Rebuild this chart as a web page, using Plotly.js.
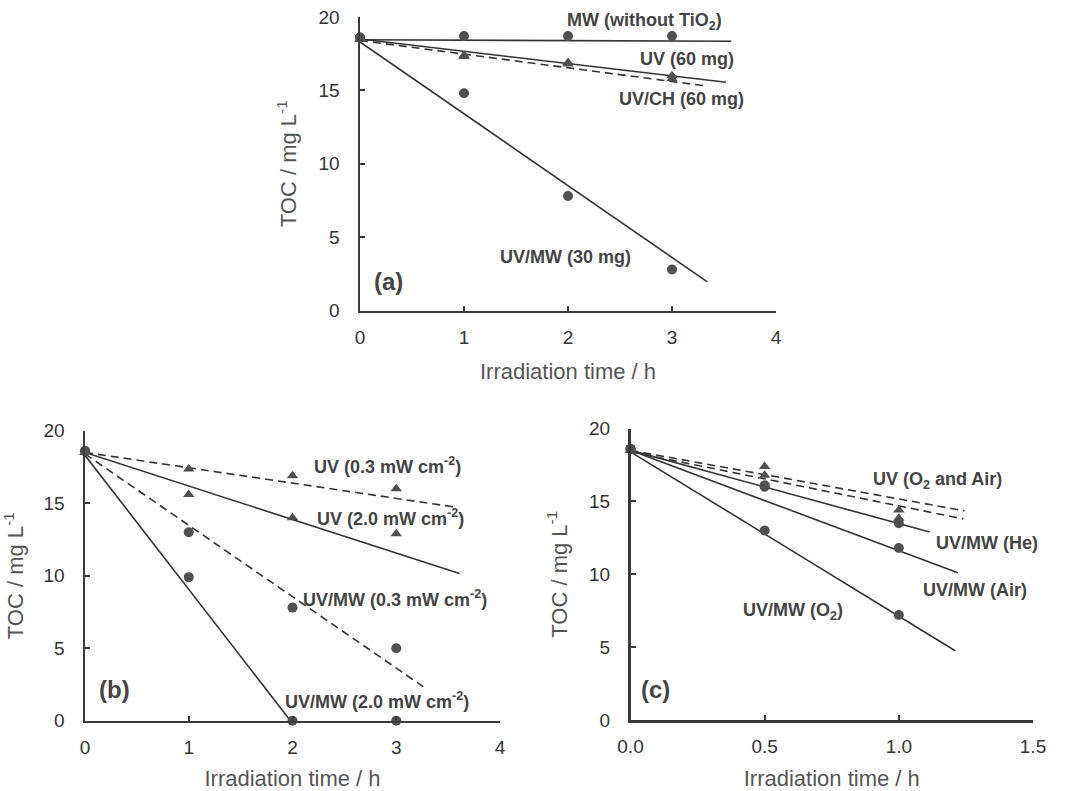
<!DOCTYPE html>
<html>
<head>
<meta charset="utf-8">
<script src="https://cdn.plot.ly/plotly-3.0.1.min.js"></script>
<style>html,body{margin:0;padding:0;background:#fff;}#chart{width:1066px;height:791px;}</style>
</head>
<body>
<div id="chart"></div>
<script>
// ---------- Panel (a) ----------
const aTime = [0, 1, 2, 3];
const aMW = [18.6, 18.7, 18.7, 18.7];
const aUV = [18.5, 17.4, 16.9, 16.0];
const aUVCH = [18.5, 17.3, 16.8, 15.8];
const aUVMW = [18.6, 14.8, 7.8, 2.8];
const aFitMW_x = [0, 3.57], aFitMW_y = [18.45, 18.35];
const aFitUV_x = [0, 3.52], aFitUV_y = [18.5, 15.55];
const aFitUVCH_x = [0, 3.33], aFitUVCH_y = [18.4, 15.3];
const aFitUVMW_x = [0, 3.34], aFitUVMW_y = [18.3, 1.95];

// ---------- Panel (b) ----------
const bTime = [0, 1, 2, 3];
const bUV03 = [18.5, 17.35, 16.9, 16.0];
const bUV20 = [18.5, 15.6, 14.0, 12.9];
const bMW03 = [18.6, 13.0, 7.8, 5.0];
const bMW20 = [18.6, 9.9, 0, 0];
const bFitUV03_x = [0, 3.55], bFitUV03_y = [18.5, 14.75];
const bFitUV20_x = [0, 3.61], bFitUV20_y = [18.5, 10.15];
const bFitMW03_x = [0, 3.26], bFitMW03_y = [18.4, 2.35];
const bFitMW20_x = [0, 1.98], bFitMW20_y = [18.3, 0];

// ---------- Panel (c) ----------
const cTime = [0, 0.5, 1.0];
const cUVO2 = [18.5, 17.4, 14.4];
const cUVAir = [18.5, 16.8, 13.85];
const cMWHe = [18.6, 16.0, 13.5];
const cMWAir = [18.6, 16.1, 11.8];
const cMWO2 = [18.6, 13.0, 7.2];
const cFitUVO2_x = [0, 1.245], cFitUVO2_y = [18.5, 14.35];
const cFitUVAir_x = [0, 1.24], cFitUVAir_y = [18.4, 13.8];
const cFitHe_x = [0, 1.115], cFitHe_y = [18.5, 12.9];
const cFitAir_x = [0, 1.22], cFitAir_y = [18.5, 10.1];
const cFitO2_x = [0, 1.21], cFitO2_y = [18.4, 4.75];

// tick labels
const aXTicks = [0, 1, 2, 3, 4];
const bXTicks = [0, 1, 2, 3, 4];
const cXTicks = [0, 0.5, 1.0, 1.5];
const cXTickText = ['0.0', '0.5', '1.0', '1.5'];
const yTicks = [0, 5, 10, 15, 20];

const INK = '#333';
const LINE = '#333';
const MARK = '#505050';

function fit(x, y, xa, ya, dash) {
  return {x: x, y: y, xaxis: xa, yaxis: ya, type: 'scatter', mode: 'lines',
    line: {color: LINE, width: 1.6, dash: dash ? '8px,5px' : 'solid'},
    showlegend: false, hoverinfo: 'skip', cliponaxis: false};
}
function pts(x, y, xa, ya, sym) {
  return {x: x, y: y, xaxis: xa, yaxis: ya, type: 'scatter', mode: 'markers',
    marker: {symbol: sym, size: sym === 'circle' ? 10 : 10, color: MARK, line: {width: 0}},
    showlegend: false, cliponaxis: false};
}

const traces = [
  fit(aFitMW_x, aFitMW_y, 'x', 'y', false),
  fit(aFitUV_x, aFitUV_y, 'x', 'y', false),
  fit(aFitUVCH_x, aFitUVCH_y, 'x', 'y', true),
  fit(aFitUVMW_x, aFitUVMW_y, 'x', 'y', false),
  pts(aTime, aUV, 'x', 'y', 'triangle-up'),
  pts(aTime, aUVCH, 'x', 'y', 'triangle-up'),
  pts(aTime, aMW, 'x', 'y', 'circle'),
  pts(aTime, aUVMW, 'x', 'y', 'circle'),

  fit(bFitUV03_x, bFitUV03_y, 'x2', 'y2', true),
  fit(bFitUV20_x, bFitUV20_y, 'x2', 'y2', false),
  fit(bFitMW03_x, bFitMW03_y, 'x2', 'y2', true),
  fit(bFitMW20_x, bFitMW20_y, 'x2', 'y2', false),
  pts(bTime, bUV03, 'x2', 'y2', 'triangle-up'),
  pts(bTime, bUV20, 'x2', 'y2', 'triangle-up'),
  pts(bTime, bMW03, 'x2', 'y2', 'circle'),
  pts(bTime, bMW20, 'x2', 'y2', 'circle'),

  fit(cFitUVO2_x, cFitUVO2_y, 'x3', 'y3', true),
  fit(cFitUVAir_x, cFitUVAir_y, 'x3', 'y3', true),
  fit(cFitHe_x, cFitHe_y, 'x3', 'y3', false),
  fit(cFitAir_x, cFitAir_y, 'x3', 'y3', false),
  fit(cFitO2_x, cFitO2_y, 'x3', 'y3', false),
  pts(cTime, cUVO2, 'x3', 'y3', 'triangle-up'),
  pts(cTime, cUVAir, 'x3', 'y3', 'triangle-up'),
  pts(cTime, cMWHe, 'x3', 'y3', 'circle'),
  pts(cTime, cMWAir, 'x3', 'y3', 'circle'),
  pts(cTime, cMWO2, 'x3', 'y3', 'circle')
];

const FONT = 'Liberation Sans, Arial, sans-serif';
function xax(domain, range, tv, tt, anchor) {
  return {domain: domain, range: range, anchor: anchor, tickvals: tv, ticktext: tt,
    showline: true, linewidth: 2.5, linecolor: '#3a3a3a', ticks: 'inside', ticklen: 5, tickwidth: 2, tickcolor: '#3a3a3a',
    showgrid: false, zeroline: false, ticklabelstandoff: 8,
    tickfont: {family: FONT, size: 19, color: INK},
    title: {text: 'Irradiation time / h', standoff: 17, font: {family: FONT, size: 22, color: '#555'}},
    fixedrange: true};
}
function yax(domain, anchor) {
  return {domain: domain, range: [0, 20], anchor: anchor, tickvals: yTicks,
    showline: true, linewidth: 2.5, linecolor: '#3a3a3a', ticks: 'inside', ticklen: 5, tickwidth: 2, tickcolor: '#3a3a3a',
    showgrid: false, zeroline: false, ticklabelstandoff: 14,
    tickfont: {family: FONT, size: 19, color: INK},
    title: {text: 'TOC / mg L<sup>-1</sup>', standoff: 16, font: {family: FONT, size: 22, color: '#555'}},
    fixedrange: true};
}

const W = 1066, H = 791;
const layout = {
  width: W, height: H, margin: {l: 0, r: 0, t: 0, b: 0},
  paper_bgcolor: '#fff', plot_bgcolor: 'rgba(0,0,0,0)', showlegend: false,
  xaxis: xax([360 / W, 776 / W], [0, 4], aXTicks, null, 'y'),
  yaxis: yax([1 - 310.5 / H, 1 - 17 / H], 'x'),
  xaxis2: xax([85 / W, 500 / W], [0, 4], bXTicks, null, 'y2'),
  yaxis2: yax([1 - 720.7 / H, 1 - 430.7 / H], 'x2'),
  xaxis3: xax([630.5 / W, 1033 / W], [0, 1.5], cXTicks, cXTickText, 'y3'),
  yaxis3: yax([1 - 720 / H, 1 - 428.5 / H], 'x3'),
  annotations: []
};

function lab(text, x, y, xr, yr, size) {
  return {text: text, x: x, y: y, xref: xr, yref: yr, showarrow: false,
    xanchor: 'center', yanchor: 'middle',
    font: {family: FONT, size: size || 18, color: '#444', weight: 'bold'}};
}
layout.annotations.push(
  lab('<b>MW (without TiO<sub>2</sub>)</b>', 2.74, 19.68, 'x', 'y'),
  lab('<b>UV (60 mg)</b>', 3.14, 17.14, 'x', 'y'),
  lab('<b>UV/CH (60 mg)</b>', 3.09, 14.41, 'x', 'y'),
  lab('<b>UV/MW (30 mg)</b>', 1.98, 3.65, 'x', 'y'),
  lab('<b>(a)</b>', 0.27, 2.0, 'x', 'y', 24),

  lab('<b>UV (0.3 mW cm<sup>-2</sup>)</b>', 2.92, 17.63, 'x2', 'y2'),
  lab('<b>UV (2.0 mW cm<sup>-2</sup>)</b>', 2.94, 13.98, 'x2', 'y2'),
  lab('<b>UV/MW (0.3 mW cm<sup>-2</sup>)</b>', 2.99, 8.46, 'x2', 'y2'),
  lab('<b>UV/MW (2.0 mW cm<sup>-2</sup>)</b>', 2.81, 1.38, 'x2', 'y2'),
  lab('<b>(b)</b>', 0.28, 2.12, 'x2', 'y2', 24),

  lab('<b>UV (O<sub>2</sub> and Air)</b>', 1.145, 16.42, 'x3', 'y3'),
  lab('<b>UV/MW (He)</b>', 1.329, 12.12, 'x3', 'y3'),
  lab('<b>UV/MW (Air)</b>', 1.282, 8.92, 'x3', 'y3'),
  lab('<b>UV/MW (O<sub>2</sub>)</b>', 0.605, 7.43, 'x3', 'y3'),
  lab('<b>(c)</b>', 0.095, 2.06, 'x3', 'y3', 24)
);

Plotly.newPlot('chart', traces, layout, {displayModeBar: false, staticPlot: true});
</script>
</body>
</html>
